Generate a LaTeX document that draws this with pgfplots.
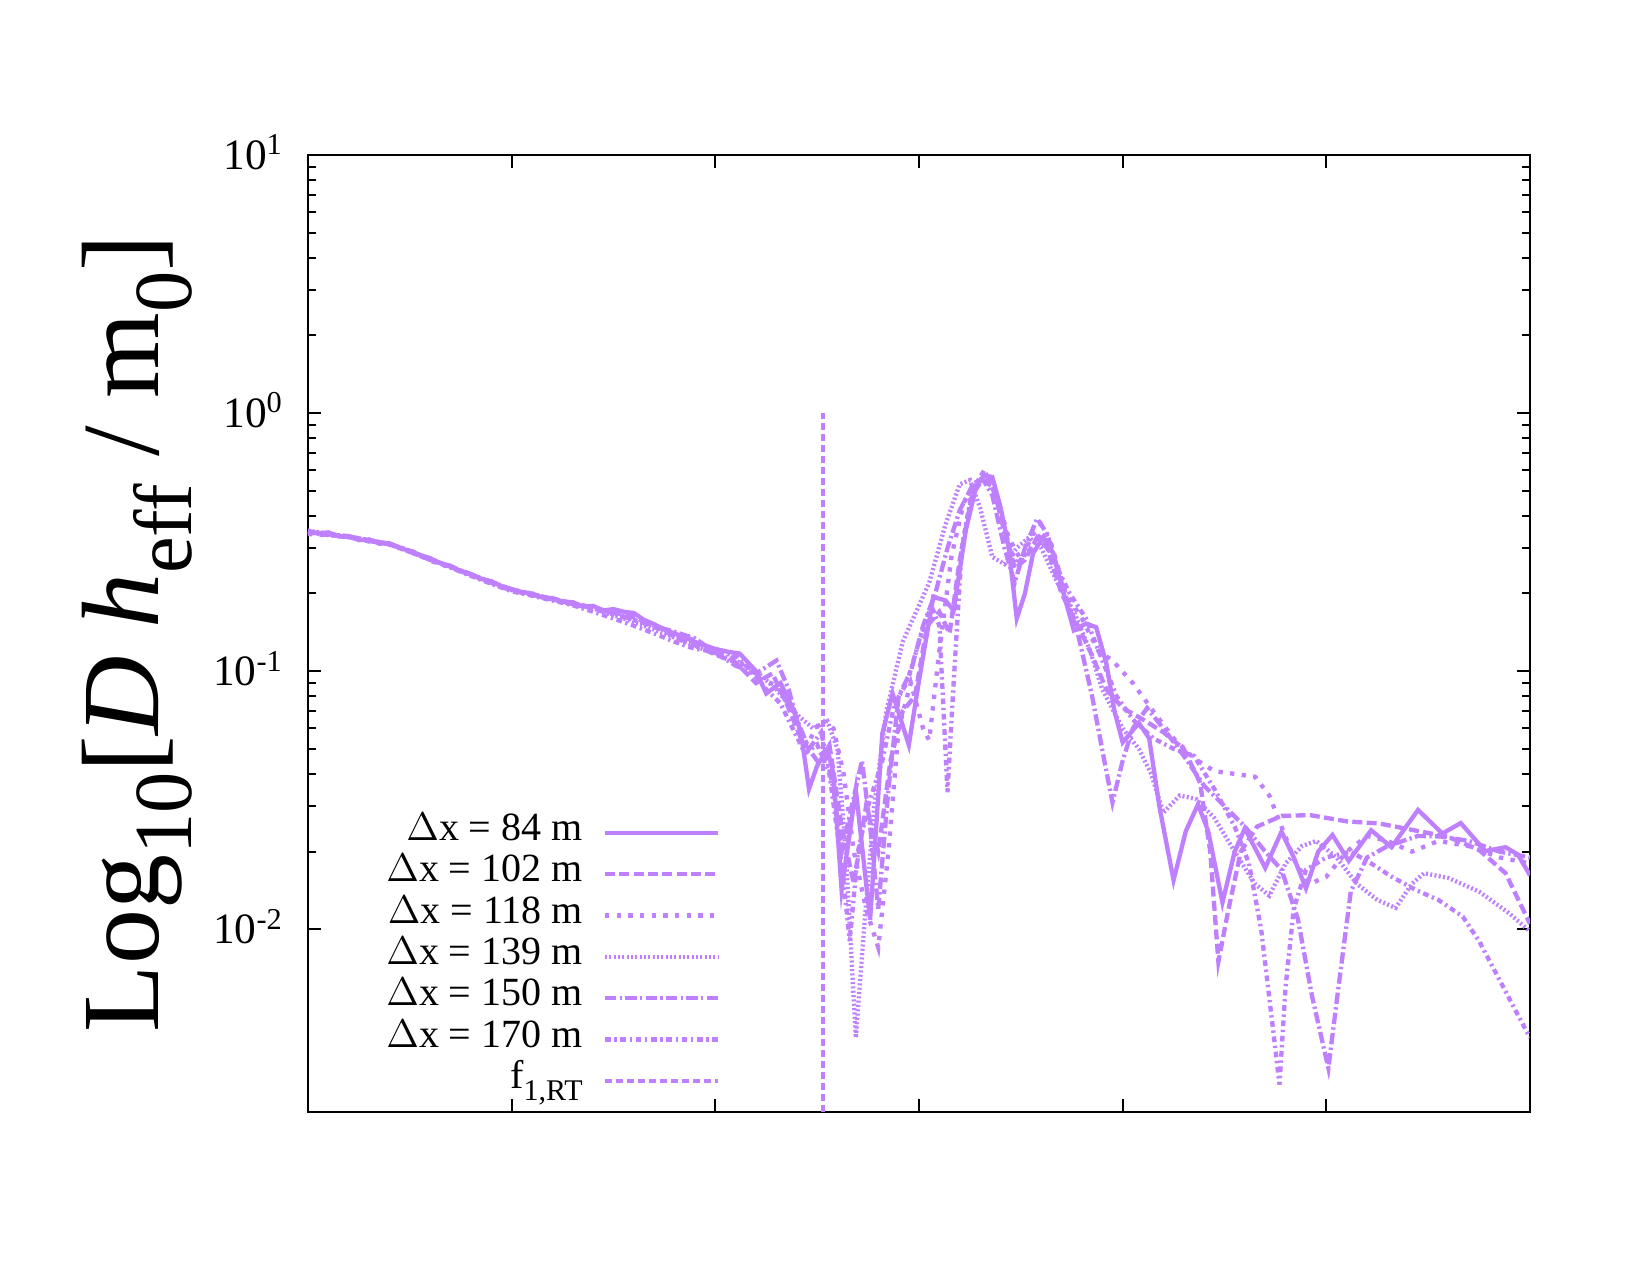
\documentclass[border=0pt]{standalone}
\usepackage{pgfplots}
\pgfplotsset{compat=1.18}
\usepackage{fontspec}
\setmainfont{Liberation Serif}
\definecolor{lp}{HTML}{BF80FF}
\newcommand{\lsub}[1]{\raisebox{-0.3em}{\scalebox{0.75}{#1}}}
\begin{document}
\begin{tikzpicture}
\begin{axis}[
 scale only axis, width=366.6pt, height=287.1pt,
 xmin=0, xmax=6, ymode=log, ymin=0.00196, ymax=10,
 xtick={1,2,3,4,5}, xticklabels={},
 ytick={0.01,0.1,1,10},
 yticklabels={10\textsuperscript{-2},10\textsuperscript{-1},10\textsuperscript{0},10\textsuperscript{1}},
 tick align=inside, major tick length=3.9pt, minor tick length=2.4pt,
 every tick/.style={black, line width=0.6pt},
 axis line style={line width=0.8pt},
 yticklabel style={font=\fontsize{13}{15}\selectfont, anchor=base east, yshift=-4.3pt, xshift=-3.8pt},
 ylabel={Log\lsub{10}[\textit{D h}\lsub{eff} / m\lsub{0}]},
 ylabel style={at={(axis description cs:-0.14,0.5)}, anchor=center, font=\fontsize{33}{38}\selectfont},
 legend style={draw=none, fill=none, at={(axis description cs:0.338,0.314)}, anchor=north east,
   font=\fontsize{12}{14}\selectfont, inner sep=0pt, row sep=0pt, column sep=6pt,
   nodes={inner sep=0pt, text height=8.5pt, text depth=3.9pt}},
 legend cell align=right, legend plot pos=right,
 legend image code/.code={\draw[#1] (0pt,0pt) -- (34pt,0pt);},
 every axis plot/.append style={lp, line width=1.3pt},
]
% 84 m
\addplot[solid] coordinates {(0.00,0.350)(0.05,0.342)(0.10,0.345)(0.15,0.333)(0.20,0.334)(0.25,0.322)(0.30,0.324)(0.35,0.312)(0.40,0.313)(0.45,0.300)(0.50,0.293)(0.55,0.282)(0.60,0.274)(0.65,0.262)(0.70,0.256)(0.75,0.244)(0.80,0.238)(0.85,0.228)(0.90,0.223)(0.95,0.213)(1.00,0.208)(1.05,0.202)(1.10,0.200)(1.15,0.193)(1.20,0.192)(1.25,0.186)(1.30,0.185)(1.35,0.178)(1.40,0.179)(1.45,0.172)(1.50,0.174)(1.55,0.170)(1.60,0.168)(1.65,0.158)(1.70,0.152)(1.75,0.145)(1.80,0.140)(1.85,0.135)(1.92,0.128)(2.00,0.122)(2.06,0.119)(2.12,0.117)(2.20,0.100)(2.25,0.082)(2.32,0.090)(2.38,0.072)(2.42,0.058)(2.46,0.035)(2.50,0.043)(2.55,0.050)(2.58,0.040)(2.62,0.0142)(2.69,0.0346)(2.76,0.0109)(2.82,0.0574)(2.87,0.082)(2.95,0.0518)(3.00,0.092)(3.07,0.194)(3.13,0.188)(3.17,0.172)(3.23,0.352)(3.28,0.517)(3.32,0.574)(3.36,0.565)(3.40,0.433)(3.44,0.303)(3.48,0.160)(3.52,0.200)(3.56,0.286)(3.61,0.331)(3.66,0.286)(3.71,0.200)(3.76,0.144)(3.82,0.153)(3.87,0.148)(3.92,0.107)(3.96,0.070)(4.00,0.053)(4.08,0.063)(4.13,0.055)(4.18,0.030)(4.25,0.0155)(4.31,0.024)(4.37,0.0305)(4.42,0.024)(4.49,0.0127)(4.55,0.020)(4.60,0.0246)(4.70,0.0173)(4.78,0.0239)(4.84,0.019)(4.90,0.0144)(4.96,0.020)(5.03,0.0232)(5.11,0.0184)(5.22,0.0242)(5.32,0.0208)(5.45,0.0290)(5.57,0.0235)(5.66,0.0258)(5.78,0.0201)(5.88,0.0208)(5.94,0.0195)(6.00,0.0162)};
\addlegendentry{$\Delta$x = 84 m}
% 102 m
\addplot[dash pattern=on 3pt off 1.3pt] coordinates {(0,0.345)(0.1,0.340)(0.2,0.330)(0.3,0.320)(0.4,0.312)(0.5,0.290)(0.6,0.270)(0.7,0.255)(0.8,0.236)(0.9,0.220)(1.0,0.205)(1.1,0.198)(1.2,0.190)(1.3,0.182)(1.4,0.176)(1.5,0.169)(1.6,0.162)(1.7,0.150)(1.8,0.136)(1.9,0.126)(2.00,0.116)(2.10,0.108)(2.20,0.090)(2.28,0.098)(2.35,0.075)(2.42,0.055)(2.50,0.045)(2.56,0.052)(2.62,0.025)(2.68,0.015)(2.74,0.030)(2.80,0.020)(2.86,0.045)(2.92,0.070)(2.98,0.080)(3.04,0.150)(3.10,0.170)(3.15,0.140)(3.20,0.270)(3.26,0.480)(3.31,0.550)(3.36,0.520)(3.42,0.360)(3.47,0.250)(3.52,0.270)(3.58,0.330)(3.63,0.300)(3.70,0.200)(3.78,0.150)(3.85,0.115)(3.92,0.085)(4.00,0.072)(4.10,0.065)(4.20,0.058)(4.30,0.050)(4.38,0.037)(4.43,0.020)(4.47,0.0075)(4.52,0.012)(4.58,0.020)(4.66,0.025)(4.78,0.0275)(4.92,0.0277)(5.10,0.0262)(5.26,0.0257)(5.43,0.0242)(5.60,0.0228)(5.75,0.0203)(5.88,0.0165)(6.00,0.0105)};
\addlegendentry{$\Delta$x = 102 m}
% 118 m
\addplot[dash pattern=on 1.3pt off 2.2pt] coordinates {(0,0.340)(0.1,0.336)(0.2,0.334)(0.3,0.318)(0.4,0.309)(0.5,0.295)(0.6,0.268)(0.7,0.252)(0.8,0.238)(0.9,0.219)(1.0,0.207)(1.1,0.197)(1.2,0.192)(1.3,0.181)(1.4,0.174)(1.5,0.166)(1.6,0.158)(1.7,0.148)(1.8,0.138)(1.9,0.132)(2.00,0.120)(2.10,0.112)(2.20,0.095)(2.30,0.088)(2.38,0.070)(2.45,0.052)(2.52,0.065)(2.58,0.060)(2.63,0.040)(2.68,0.020)(2.74,0.012)(2.80,0.0085)(2.85,0.020)(2.90,0.060)(2.96,0.090)(3.02,0.060)(3.05,0.054)(3.10,0.120)(3.16,0.280)(3.22,0.450)(3.28,0.540)(3.33,0.560)(3.38,0.480)(3.44,0.330)(3.50,0.270)(3.56,0.340)(3.60,0.370)(3.65,0.310)(3.72,0.200)(3.80,0.160)(3.88,0.120)(3.95,0.110)(4.05,0.090)(4.15,0.070)(4.25,0.055)(4.35,0.046)(4.45,0.041)(4.55,0.040)(4.65,0.039)(4.72,0.033)(4.78,0.025)(4.85,0.018)(4.92,0.015)(5.00,0.016)(5.10,0.020)(5.20,0.023)(5.30,0.022)(5.42,0.020)(5.55,0.022)(5.70,0.021)(5.85,0.019)(6.00,0.018)};
\addlegendentry{$\Delta$x = 118 m}
% 139 m
\addplot[dash pattern=on 0.6pt off 0.7pt] coordinates {(0,0.350)(0.1,0.341)(0.2,0.331)(0.3,0.323)(0.4,0.310)(0.5,0.291)(0.6,0.273)(0.7,0.253)(0.8,0.235)(0.9,0.223)(1.0,0.206)(1.1,0.200)(1.2,0.189)(1.3,0.183)(1.4,0.175)(1.5,0.165)(1.6,0.155)(1.7,0.145)(1.8,0.135)(1.9,0.125)(2.00,0.117)(2.10,0.110)(2.20,0.100)(2.30,0.085)(2.40,0.068)(2.48,0.060)(2.55,0.064)(2.60,0.050)(2.64,0.020)(2.69,0.0038)(2.73,0.010)(2.78,0.030)(2.84,0.070)(2.92,0.130)(3.00,0.180)(3.05,0.220)(3.13,0.370)(3.20,0.530)(3.25,0.550)(3.30,0.430)(3.36,0.277)(3.42,0.260)(3.48,0.300)(3.54,0.330)(3.60,0.300)(3.68,0.220)(3.76,0.170)(3.84,0.120)(3.90,0.085)(4.00,0.060)(4.08,0.050)(4.14,0.040)(4.20,0.0283)(4.28,0.033)(4.36,0.032)(4.45,0.027)(4.55,0.020)(4.65,0.015)(4.72,0.0135)(4.80,0.018)(4.88,0.021)(4.95,0.022)(5.05,0.019)(5.15,0.015)(5.25,0.013)(5.34,0.0121)(5.42,0.015)(5.48,0.0165)(5.60,0.0158)(5.75,0.014)(5.90,0.0115)(6.00,0.0098)};
\addlegendentry{$\Delta$x = 139 m}
% 150 m
\addplot[dash pattern=on 3.4pt off 1pt on 0.7pt off 1pt] coordinates {(0,0.346)(0.1,0.339)(0.2,0.333)(0.3,0.321)(0.4,0.312)(0.5,0.292)(0.6,0.271)(0.7,0.254)(0.8,0.237)(0.9,0.221)(1.0,0.208)(1.1,0.199)(1.2,0.190)(1.3,0.184)(1.4,0.176)(1.5,0.168)(1.6,0.158)(1.7,0.150)(1.8,0.142)(1.9,0.134)(2.00,0.118)(2.10,0.105)(2.20,0.098)(2.30,0.110)(2.36,0.085)(2.40,0.065)(2.46,0.050)(2.52,0.058)(2.58,0.035)(2.62,0.020)(2.67,0.030)(2.72,0.045)(2.76,0.025)(2.80,0.012)(2.85,0.035)(2.90,0.080)(2.96,0.100)(3.02,0.150)(3.08,0.200)(3.14,0.300)(3.20,0.420)(3.26,0.520)(3.31,0.560)(3.36,0.480)(3.42,0.300)(3.47,0.220)(3.52,0.300)(3.58,0.390)(3.63,0.340)(3.70,0.220)(3.78,0.140)(3.85,0.080)(3.91,0.045)(3.95,0.031)(4.00,0.045)(4.05,0.060)(4.12,0.072)(4.20,0.060)(4.30,0.047)(4.40,0.036)(4.50,0.030)(4.60,0.025)(4.70,0.020)(4.78,0.017)(4.86,0.011)(4.93,0.0055)(5.01,0.0029)(5.06,0.006)(5.12,0.014)(5.20,0.019)(5.30,0.021)(5.45,0.023)(5.56,0.0229)(5.70,0.022)(5.85,0.020)(6.00,0.019)};
\addlegendentry{$\Delta$x = 150 m}
% 170 m
\addplot[dash pattern=on 1.7pt off 1.1pt on 0.7pt off 1.1pt] coordinates {(0,0.344)(0.1,0.337)(0.2,0.330)(0.3,0.320)(0.4,0.310)(0.5,0.290)(0.6,0.270)(0.7,0.252)(0.8,0.234)(0.9,0.218)(1.0,0.204)(1.1,0.196)(1.2,0.188)(1.3,0.180)(1.4,0.170)(1.5,0.160)(1.6,0.150)(1.7,0.140)(1.8,0.130)(1.9,0.122)(2.00,0.119)(2.10,0.115)(2.18,0.100)(2.25,0.085)(2.32,0.075)(2.38,0.060)(2.44,0.048)(2.50,0.052)(2.56,0.040)(2.62,0.018)(2.66,0.009)(2.70,0.020)(2.75,0.030)(2.82,0.045)(2.88,0.075)(2.94,0.090)(3.00,0.130)(3.06,0.180)(3.10,0.150)(3.14,0.034)(3.17,0.090)(3.21,0.300)(3.26,0.500)(3.32,0.600)(3.37,0.500)(3.43,0.320)(3.48,0.260)(3.55,0.300)(3.60,0.340)(3.66,0.270)(3.74,0.200)(3.82,0.160)(3.90,0.110)(3.97,0.080)(4.05,0.065)(4.15,0.055)(4.25,0.050)(4.35,0.047)(4.45,0.035)(4.55,0.025)(4.62,0.018)(4.68,0.010)(4.74,0.004)(4.77,0.0025)(4.80,0.006)(4.84,0.012)(4.90,0.017)(5.00,0.019)(5.12,0.020)(5.22,0.018)(5.32,0.016)(5.44,0.0142)(5.55,0.013)(5.67,0.0112)(5.75,0.009)(5.84,0.0066)(5.92,0.005)(6.00,0.0038)};
\addlegendentry{$\Delta$x = 170 m}
% f1,RT
\addplot[dash pattern=on 2.2pt off 1.1pt] coordinates {(2.53,0.00196)(2.53,1)};
\addlegendentry{f\lsub{1,RT}}
\end{axis}
\pgfresetboundingbox
\path[use as bounding box] (-92.4pt,-48.9pt) rectangle (402.6pt,333.6pt);
\end{tikzpicture}
\end{document}
